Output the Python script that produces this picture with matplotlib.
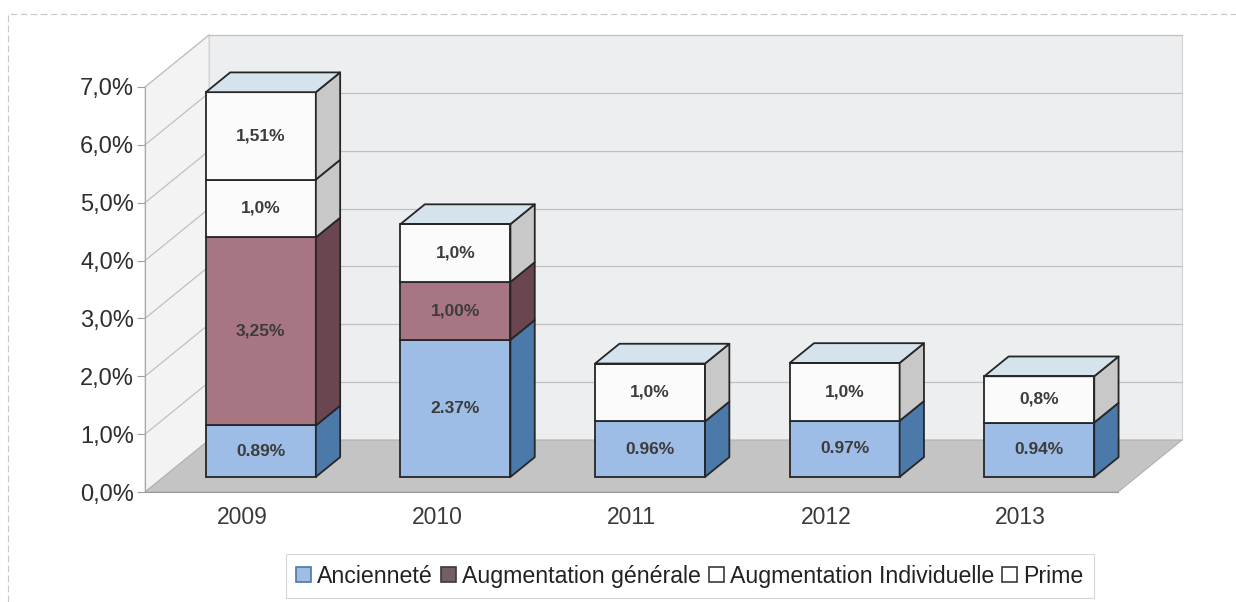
import matplotlib
matplotlib.use("Agg")
import matplotlib.pyplot as plt
import matplotlib.transforms as mtransforms
from matplotlib.patches import Polygon, Rectangle
import numpy as np

plt.rcParams['font.family'] = ['Liberation Sans', 'DejaVu Sans']

# data
years = ['2009', '2010', '2011', '2012', '2013']
anciennete = [0.89, 2.37, 0.96, 0.97, 0.94]
aug_generale = [3.25, 1.00, 0.0, 0.0, 0.0]
aug_individuelle = [1.0, 1.0, 1.0, 1.0, 0.8]
prime = [1.51, 0.0, 0.0, 0.0, 0.0]
series_names = ['Ancienneté', 'Augmentation générale', 'Augmentation Individuelle', 'Prime']
ytick_vals = [0, 1, 2, 3, 4, 5, 6, 7]
ytick_labels = ['0,0%', '1,0%', '2,0%', '3,0%', '4,0%', '5,0%', '6,0%', '7,0%']

series = [anciennete, aug_generale, aug_individuelle, prime]
# (front, side, top, label format, decimal sep)
styles = [
    ('#9dbde6', '#4b79a9', '#c9dcf0', '{:.2f}%', '.'),
    ('#a87582', '#6a4650', '#c9a6ae', '{:.2f}%', ','),
    ('#fbfbfb', '#c8c8c8', '#d4e3ec', '{:.1f}%', ','),
    ('#fbfbfb', '#c8c8c8', '#d4e3ec', '{:.2f}%', ','),
]

W, H = 1236, 602
fig = plt.figure(figsize=(W / 100, H / 100), dpi=100)
fig.patch.set_facecolor('white')

# front plane of the 3d box, in pixels
left, right, bottom, top = 145, 1118, 110, 515
ax = fig.add_axes([left / W, bottom / H, (right - left) / W, (top - bottom) / H])
ax.set_xlim(-0.5, 4.5)
ax.set_ylim(0, 7)
ax.patch.set_visible(False)

DX, DY = 64, 52          # full depth of floor, px
f0, f1 = 0.29, 0.67      # bars sit between these depths
bw = 0.565

def P(x, y, d):
    px, py = ax.transData.transform((x, y))
    return (px + d * DX, py + d * DY)

ident = mtransforms.IdentityTransform()

def poly(pts, fc, ec='none', lw=0, z=1):
    p = Polygon(pts, closed=True, facecolor=fc, edgecolor=ec, linewidth=lw,
                transform=ident, clip_on=False, zorder=z, joinstyle='round')
    ax.add_patch(p)
    return p

a, b = -0.5, 4.5
# walls and floor
poly([P(a, 0, 1), P(b, 0, 1), P(b, 7, 1), P(a, 7, 1)], '#eceef0', '#d2d2d2', 0.8, z=0.1)
poly([P(a, 0, 0), P(a, 0, 1), P(a, 7, 1), P(a, 7, 0)], '#f3f3f3', '#d6d6d6', 0.8, z=0.1)
poly([P(a, 0, 0), P(b, 0, 0), P(b, 0, 1), P(a, 0, 1)], '#c4c4c4', '#b0b0b0', 0.8, z=0.2)

for yv in ytick_vals[1:]:
    x0, y0 = P(a, yv, 1)
    x1, y1 = P(b, yv, 1)
    ax.plot([x0, x1], [y0, y1], color='#c0c0c0', lw=0.9, transform=ident, clip_on=False, zorder=0.3)
    x2, y2 = P(a, yv, 0)
    ax.plot([x2, x0], [y2, y0], color='#c0c0c0', lw=0.9, transform=ident, clip_on=False, zorder=0.3)

# bars: front faces via ax.bar, shifted back in depth
front_tr = ax.transData + mtransforms.ScaledTranslation(f0 * DX / 100, f0 * DY / 100, fig.dpi_scale_trans)
xs = np.arange(len(years))
bottoms = np.zeros(len(years))
totals = np.sum(series, axis=0)
edge = '#262626'
for vals, (fc, sc, tc, fmt, sep) in zip(series, styles):
    vals = np.array(vals)
    bars = ax.bar(xs, vals, bottom=bottoms, width=bw, color=fc, edgecolor=edge,
                  linewidth=1.3, zorder=2)
    for r in bars:
        r.set_transform(front_tr)
        r.set_clip_on(False)
    for i, v in enumerate(vals):
        if v <= 0:
            continue
        xr = xs[i] + bw / 2
        xl = xs[i] - bw / 2
        y0, y1 = bottoms[i], bottoms[i] + v
        poly([P(xr, y0, f0), P(xr, y0, f1), P(xr, y1, f1), P(xr, y1, f0)], sc, edge, 1.3, z=2)
        if np.isclose(y1, totals[i]):
            poly([P(xl, y1, f0), P(xr, y1, f0), P(xr, y1, f1), P(xl, y1, f1)], tc, edge, 1.3, z=2)
        txt = fmt.format(v).replace('.', sep)
        ax.text(xs[i], y0 + v / 2, txt, transform=front_tr, ha='center', va='center',
                fontsize=12.5, fontweight='bold', color='#3c3c3c', zorder=3)
    bottoms = bottoms + vals

# axes styling
for s in ['top', 'right']:
    ax.spines[s].set_visible(False)
ax.spines['left'].set_color('#a8a8a8')
ax.spines['bottom'].set_color('#9a9a9a')
ax.set_yticks(ytick_vals)
ax.set_yticklabels(ytick_labels)
ax.set_xticks(xs)
ax.set_xticklabels(years)
ax.tick_params(axis='y', length=6, color='#a0a0a0', labelsize=17, labelcolor='#2e2e2e', pad=2)
ax.tick_params(axis='x', length=0, labelsize=16.5, labelcolor='#3a3a3a', pad=10)

# legend
handles = [Rectangle((0, 0), 1, 1, facecolor=styles[0][0], edgecolor='#4b79a9', lw=1.2),
           Rectangle((0, 0), 1, 1, facecolor='#735f65', edgecolor='#3a3a3a', lw=1.2),
           Rectangle((0, 0), 1, 1, facecolor='white', edgecolor='#3a3a3a', lw=1.2),
           Rectangle((0, 0), 1, 1, facecolor='white', edgecolor='#3a3a3a', lw=1.2)]
leg = fig.legend(handles, series_names, loc='center', bbox_to_anchor=(0.558, 0.043), ncol=4,
                 fontsize=16.7, frameon=True, fancybox=False, edgecolor='#cccccc',
                 handlelength=0.65, handleheight=0.65, handletextpad=0.25, columnspacing=0.35,
                 borderpad=0.45, labelcolor='#222222')
leg.get_frame().set_linewidth(0.8)

# faint outer border of the chart area
fig.patches.append(Rectangle((8 / W, -0.01), 1.0, 1 - 14 / H + 0.01, transform=fig.transFigure,
                             fill=False, edgecolor='#c8c8c8', lw=0.8, linestyle=(0, (6, 3))))

fig.savefig('out.png', dpi=100)
